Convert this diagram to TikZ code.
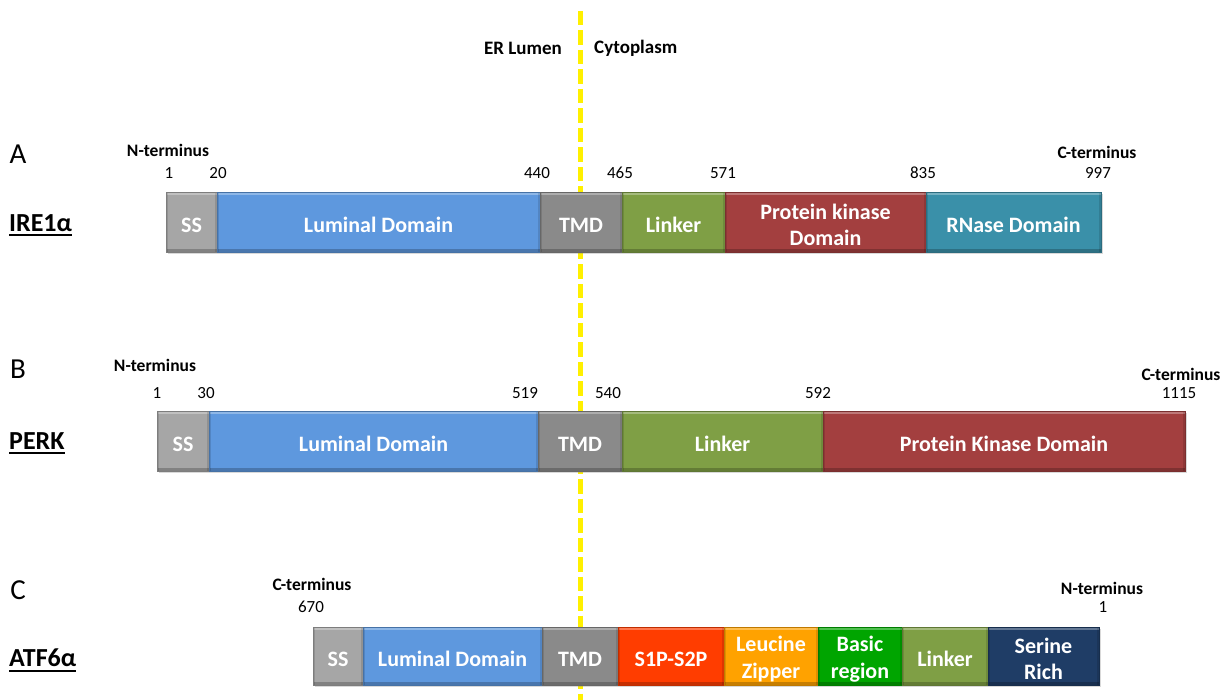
\documentclass[tikz,border=0pt]{standalone}
\usepackage{fontspec}
\setmainfont{Carlito}
\usetikzlibrary{shadows}
\definecolor{ssgray}{HTML}{A6A6A6}
\definecolor{lumblue}{HTML}{5E98DE}
\definecolor{tmdgray}{HTML}{8A8A8A}
\definecolor{lnkgreen}{HTML}{7F9F45}
\definecolor{pkred}{HTML}{A33F3F}
\definecolor{rnteal}{HTML}{3A90A9}
\definecolor{sporange}{HTML}{FF3D00}
\definecolor{lzorange}{HTML}{FFA200}
\definecolor{bsgreen}{HTML}{00A500}
\definecolor{srblue}{HTML}{1F3D66}
\definecolor{erline}{HTML}{FFF000}
\tikzset{
  dom/.style={fill=#1, draw=#1!75!black, line width=0.5pt, inner sep=0pt,
    minimum height=60pt,
    drop shadow={shadow xshift=2pt, shadow yshift=-2pt, opacity=.3},
    path picture={
      \fill[white, opacity=.3] (path picture bounding box.north west) rectangle ([yshift=-3pt]path picture bounding box.north east);
      \fill[black, opacity=.22] (path picture bounding box.south west) rectangle ([yshift=3pt]path picture bounding box.south east);
      \fill[black, opacity=.12] (path picture bounding box.south west) rectangle ([xshift=2pt]path picture bounding box.north west);
      \fill[black, opacity=.12] (path picture bounding box.south east) rectangle ([xshift=-2pt]path picture bounding box.north east);
    }},
  lab/.style={text=white, font=\fontsize{22}{26.5}\selectfont\bfseries,
    align=center, inner sep=0pt, yshift=-3pt},
  num/.style={font=\fontsize{17}{20}\selectfont, inner sep=0pt},
  term/.style={font=\fontsize{17.5}{20}\selectfont\bfseries, inner sep=0pt},
  side/.style={font=\fontsize{19}{22}\selectfont\bfseries, inner sep=0pt},
  prot/.style={font=\fontsize{26}{30}\selectfont\bfseries, anchor=west, inner sep=0pt},
  panel/.style={font=\fontsize{29}{34}\selectfont, inner sep=0pt},
}
\begin{document}
\begin{tikzpicture}[x=1pt, y=-1pt]
\useasboundingbox (0,0) rectangle (1226,700);
% membrane
\coordinate (mtop) at (580,11);
\coordinate (mbot) at (580,700);
\draw[erline, line width=5pt, dash pattern=on 14.5pt off 5pt] (mtop) -- (mbot);
\node[side, anchor=east] (lumen) at (562,48) {ER Lumen};
\node[side, anchor=west] (cyto) at (594,48) {Cytoplasm};
% A: IRE1alpha
\node[panel] (pa) at (18,154) {A};
\node[prot] (ire) at (9,223) {IRE1α};
\draw[line width=2pt] ([yshift=-4pt]ire.base west) -- ([yshift=-4pt]ire.base east);
\foreach \n/\a/\b/\c/\t in {ss/166/217/ssgray/SS, lum/217/540/lumblue/Luminal Domain,
  tmd/540/622/tmdgray/TMD, lnk/622/725/lnkgreen/Linker,
  pk/725/926/pkred/{Protein kinase\\Domain}, rn/926/1101/rnteal/RNase Domain}
  \node[dom=\c, minimum width={(\b-\a)*1pt}, label={[lab]center:\t}] (a\n) at ({(\a+\b)/2},222) {};
\foreach \v/\x in {1/169, 20/218, 440/537, 465/620, 571/723, 835/923, 997/1098}
  \node[num] (an\v) at (\x,173) {\v};
\node[term] (antm) at (168,150) {N-terminus};
\node[term] (actm) at (1097,152) {C-terminus};
% B: PERK
\node[panel] (pb) at (18,369) {B};
\node[prot] (perk) at (9,441) {PERK};
\draw[line width=2pt] ([yshift=-4pt]perk.base west) -- ([yshift=-4pt]perk.base east);
\foreach \n/\a/\b/\c/\t in {ss/157/209/ssgray/SS, lum/209/538/lumblue/Luminal Domain,
  tmd/538/622/tmdgray/TMD, lnk/622/823/lnkgreen/Linker,
  pk/823/1185/pkred/Protein Kinase Domain}
  \node[dom=\c, minimum width={(\b-\a)*1pt}, label={[lab]center:\t}] (b\n) at ({(\a+\b)/2},441) {};
\foreach \v/\x in {1/157, 30/206, 519/525, 540/608, 592/818, 1115/1179}
  \node[num] (bn\v) at (\x,393) {\v};
\node[term] (bntm) at (155,365) {N-terminus};
\node[term] (bctm) at (1181,374) {C-terminus};
% C: ATF6alpha
\node[panel] (pc) at (18,590) {C};
\node[prot] (atf) at (9,658) {ATF6α};
\draw[line width=2pt] ([yshift=-4pt]atf.base west) -- ([yshift=-4pt]atf.base east);
\foreach \n/\a/\b/\c/\t in {ss/313/363/ssgray/SS, lum/363/542/lumblue/Luminal Domain,
  tmd/542/618/tmdgray/TMD, sp/618/724/sporange/S1P-S2P,
  lz/724/818/lzorange/{Leucine\\Zipper}, bs/818/902/bsgreen/{Basic\\region},
  lnk/902/988/lnkgreen/Linker, sr/988/1099/srblue/{Serine\\Rich}}
  \node[dom=\c, minimum width={(\b-\a)*1pt}, minimum height=58pt, label={[lab]center:\t}] (c\n) at ({(\a+\b)/2},656) {};
\node[term] (cctm) at (312,584) {C-terminus};
\node[num] (cn670) at (311,607) {670};
\node[term] (cntm) at (1102,588) {N-terminus};
\node[num] (cn1) at (1103,607) {1};
\end{tikzpicture}
\end{document}
